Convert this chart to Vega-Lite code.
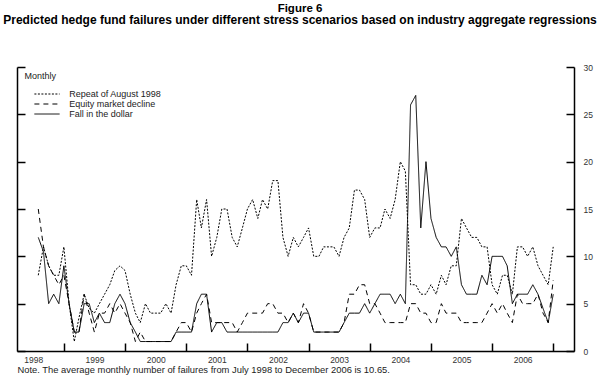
{
  "$schema": "https://vega.github.io/schema/vega-lite/v6.json",
  "width": 557,
  "height": 284,
  "autosize": {"type": "none"},
  "padding": {"left": 17, "top": 67, "right": 26, "bottom": 30},
  "background": "white",
  "config": {"view": {"stroke": null}, "font": "Liberation Sans"},
  "title": {
    "text": "Figure 6",
    "subtitle": "Predicted hedge fund failures under different stress scenarios based on industry aggregate regressions",
    "anchor": "middle",
    "fontSize": 11.5,
    "fontWeight": "bold",
    "color": "black",
    "subtitleFontSize": 12,
    "subtitleFontWeight": "bold",
    "subtitleColor": "black",
    "subtitlePadding": 0,
    "offset": 37.5,
    "dx": 4.5
  },
  "data": {"values": [
    {"m":"1998-07","s":"Repeat of August 1998","v":8},{"m":"1998-08","s":"Repeat of August 1998","v":11},{"m":"1998-09","s":"Repeat of August 1998","v":9},{"m":"1998-10","s":"Repeat of August 1998","v":8},{"m":"1998-11","s":"Repeat of August 1998","v":8},{"m":"1998-12","s":"Repeat of August 1998","v":11},
    {"m":"1999-01","s":"Repeat of August 1998","v":5},{"m":"1999-02","s":"Repeat of August 1998","v":1},{"m":"1999-03","s":"Repeat of August 1998","v":3.5},{"m":"1999-04","s":"Repeat of August 1998","v":6},{"m":"1999-05","s":"Repeat of August 1998","v":4.5},{"m":"1999-06","s":"Repeat of August 1998","v":4},{"m":"1999-07","s":"Repeat of August 1998","v":5},{"m":"1999-08","s":"Repeat of August 1998","v":6},{"m":"1999-09","s":"Repeat of August 1998","v":7},{"m":"1999-10","s":"Repeat of August 1998","v":8.5},{"m":"1999-11","s":"Repeat of August 1998","v":9},{"m":"1999-12","s":"Repeat of August 1998","v":8.5},
    {"m":"2000-01","s":"Repeat of August 1998","v":6},{"m":"2000-02","s":"Repeat of August 1998","v":4},{"m":"2000-03","s":"Repeat of August 1998","v":3},{"m":"2000-04","s":"Repeat of August 1998","v":5},{"m":"2000-05","s":"Repeat of August 1998","v":4},{"m":"2000-06","s":"Repeat of August 1998","v":4},{"m":"2000-07","s":"Repeat of August 1998","v":4},{"m":"2000-08","s":"Repeat of August 1998","v":5},{"m":"2000-09","s":"Repeat of August 1998","v":4},{"m":"2000-10","s":"Repeat of August 1998","v":7},{"m":"2000-11","s":"Repeat of August 1998","v":9},{"m":"2000-12","s":"Repeat of August 1998","v":9},
    {"m":"2001-01","s":"Repeat of August 1998","v":8},{"m":"2001-02","s":"Repeat of August 1998","v":16},{"m":"2001-03","s":"Repeat of August 1998","v":13},{"m":"2001-04","s":"Repeat of August 1998","v":16},{"m":"2001-05","s":"Repeat of August 1998","v":10},{"m":"2001-06","s":"Repeat of August 1998","v":12},{"m":"2001-07","s":"Repeat of August 1998","v":15},{"m":"2001-08","s":"Repeat of August 1998","v":15},{"m":"2001-09","s":"Repeat of August 1998","v":12},{"m":"2001-10","s":"Repeat of August 1998","v":11},{"m":"2001-11","s":"Repeat of August 1998","v":13},{"m":"2001-12","s":"Repeat of August 1998","v":15},
    {"m":"2002-01","s":"Repeat of August 1998","v":16},{"m":"2002-02","s":"Repeat of August 1998","v":14},{"m":"2002-03","s":"Repeat of August 1998","v":16},{"m":"2002-04","s":"Repeat of August 1998","v":15},{"m":"2002-05","s":"Repeat of August 1998","v":18},{"m":"2002-06","s":"Repeat of August 1998","v":18},{"m":"2002-07","s":"Repeat of August 1998","v":12},{"m":"2002-08","s":"Repeat of August 1998","v":10},{"m":"2002-09","s":"Repeat of August 1998","v":12},{"m":"2002-10","s":"Repeat of August 1998","v":11},{"m":"2002-11","s":"Repeat of August 1998","v":12},{"m":"2002-12","s":"Repeat of August 1998","v":13},
    {"m":"2003-01","s":"Repeat of August 1998","v":10},{"m":"2003-02","s":"Repeat of August 1998","v":10},{"m":"2003-03","s":"Repeat of August 1998","v":11},{"m":"2003-04","s":"Repeat of August 1998","v":11},{"m":"2003-05","s":"Repeat of August 1998","v":11},{"m":"2003-06","s":"Repeat of August 1998","v":10},{"m":"2003-07","s":"Repeat of August 1998","v":12},{"m":"2003-08","s":"Repeat of August 1998","v":13},{"m":"2003-09","s":"Repeat of August 1998","v":17},{"m":"2003-10","s":"Repeat of August 1998","v":17},{"m":"2003-11","s":"Repeat of August 1998","v":16},{"m":"2003-12","s":"Repeat of August 1998","v":12},
    {"m":"2004-01","s":"Repeat of August 1998","v":13},{"m":"2004-02","s":"Repeat of August 1998","v":13},{"m":"2004-03","s":"Repeat of August 1998","v":15},{"m":"2004-04","s":"Repeat of August 1998","v":14},{"m":"2004-05","s":"Repeat of August 1998","v":16},{"m":"2004-06","s":"Repeat of August 1998","v":20},{"m":"2004-07","s":"Repeat of August 1998","v":19},{"m":"2004-08","s":"Repeat of August 1998","v":7},{"m":"2004-09","s":"Repeat of August 1998","v":7},{"m":"2004-10","s":"Repeat of August 1998","v":6},{"m":"2004-11","s":"Repeat of August 1998","v":6},{"m":"2004-12","s":"Repeat of August 1998","v":7},
    {"m":"2005-01","s":"Repeat of August 1998","v":6},{"m":"2005-02","s":"Repeat of August 1998","v":8},{"m":"2005-03","s":"Repeat of August 1998","v":7},{"m":"2005-04","s":"Repeat of August 1998","v":9},{"m":"2005-05","s":"Repeat of August 1998","v":9},{"m":"2005-06","s":"Repeat of August 1998","v":14},{"m":"2005-07","s":"Repeat of August 1998","v":13},{"m":"2005-08","s":"Repeat of August 1998","v":12},{"m":"2005-09","s":"Repeat of August 1998","v":12},{"m":"2005-10","s":"Repeat of August 1998","v":11},{"m":"2005-11","s":"Repeat of August 1998","v":11},{"m":"2005-12","s":"Repeat of August 1998","v":7},
    {"m":"2006-01","s":"Repeat of August 1998","v":6},{"m":"2006-02","s":"Repeat of August 1998","v":8},{"m":"2006-03","s":"Repeat of August 1998","v":8},{"m":"2006-04","s":"Repeat of August 1998","v":6},{"m":"2006-05","s":"Repeat of August 1998","v":11},{"m":"2006-06","s":"Repeat of August 1998","v":11},{"m":"2006-07","s":"Repeat of August 1998","v":10},{"m":"2006-08","s":"Repeat of August 1998","v":11},{"m":"2006-09","s":"Repeat of August 1998","v":9},{"m":"2006-10","s":"Repeat of August 1998","v":8},{"m":"2006-11","s":"Repeat of August 1998","v":7},{"m":"2006-12","s":"Repeat of August 1998","v":11},

    {"m":"1998-07","s":"Equity market decline","v":15},{"m":"1998-08","s":"Equity market decline","v":11},{"m":"1998-09","s":"Equity market decline","v":9},{"m":"1998-10","s":"Equity market decline","v":8},{"m":"1998-11","s":"Equity market decline","v":7},{"m":"1998-12","s":"Equity market decline","v":8},
    {"m":"1999-01","s":"Equity market decline","v":5},{"m":"1999-02","s":"Equity market decline","v":2},{"m":"1999-03","s":"Equity market decline","v":2},{"m":"1999-04","s":"Equity market decline","v":6},{"m":"1999-05","s":"Equity market decline","v":4},{"m":"1999-06","s":"Equity market decline","v":2},{"m":"1999-07","s":"Equity market decline","v":4},{"m":"1999-08","s":"Equity market decline","v":4},{"m":"1999-09","s":"Equity market decline","v":5},{"m":"1999-10","s":"Equity market decline","v":4},{"m":"1999-11","s":"Equity market decline","v":5},{"m":"1999-12","s":"Equity market decline","v":4},
    {"m":"2000-01","s":"Equity market decline","v":3},{"m":"2000-02","s":"Equity market decline","v":1},{"m":"2000-03","s":"Equity market decline","v":2},{"m":"2000-04","s":"Equity market decline","v":1},{"m":"2000-05","s":"Equity market decline","v":1},{"m":"2000-06","s":"Equity market decline","v":1},{"m":"2000-07","s":"Equity market decline","v":1},{"m":"2000-08","s":"Equity market decline","v":1},{"m":"2000-09","s":"Equity market decline","v":1},{"m":"2000-10","s":"Equity market decline","v":2},{"m":"2000-11","s":"Equity market decline","v":3},{"m":"2000-12","s":"Equity market decline","v":3},
    {"m":"2001-01","s":"Equity market decline","v":2},{"m":"2001-02","s":"Equity market decline","v":4},{"m":"2001-03","s":"Equity market decline","v":5},{"m":"2001-04","s":"Equity market decline","v":6},{"m":"2001-05","s":"Equity market decline","v":3},{"m":"2001-06","s":"Equity market decline","v":3},{"m":"2001-07","s":"Equity market decline","v":3},{"m":"2001-08","s":"Equity market decline","v":3},{"m":"2001-09","s":"Equity market decline","v":3},{"m":"2001-10","s":"Equity market decline","v":2},{"m":"2001-11","s":"Equity market decline","v":3},{"m":"2001-12","s":"Equity market decline","v":4},
    {"m":"2002-01","s":"Equity market decline","v":4},{"m":"2002-02","s":"Equity market decline","v":4},{"m":"2002-03","s":"Equity market decline","v":4},{"m":"2002-04","s":"Equity market decline","v":5},{"m":"2002-05","s":"Equity market decline","v":5},{"m":"2002-06","s":"Equity market decline","v":4},{"m":"2002-07","s":"Equity market decline","v":4},{"m":"2002-08","s":"Equity market decline","v":3},{"m":"2002-09","s":"Equity market decline","v":4},{"m":"2002-10","s":"Equity market decline","v":3},{"m":"2002-11","s":"Equity market decline","v":5},{"m":"2002-12","s":"Equity market decline","v":4},
    {"m":"2003-01","s":"Equity market decline","v":2},{"m":"2003-02","s":"Equity market decline","v":2},{"m":"2003-03","s":"Equity market decline","v":2},{"m":"2003-04","s":"Equity market decline","v":2},{"m":"2003-05","s":"Equity market decline","v":2},{"m":"2003-06","s":"Equity market decline","v":2},{"m":"2003-07","s":"Equity market decline","v":3},{"m":"2003-08","s":"Equity market decline","v":6},{"m":"2003-09","s":"Equity market decline","v":6},{"m":"2003-10","s":"Equity market decline","v":7},{"m":"2003-11","s":"Equity market decline","v":7},{"m":"2003-12","s":"Equity market decline","v":5},
    {"m":"2004-01","s":"Equity market decline","v":5},{"m":"2004-02","s":"Equity market decline","v":4},{"m":"2004-03","s":"Equity market decline","v":3},{"m":"2004-04","s":"Equity market decline","v":3},{"m":"2004-05","s":"Equity market decline","v":3},{"m":"2004-06","s":"Equity market decline","v":3},{"m":"2004-07","s":"Equity market decline","v":3},{"m":"2004-08","s":"Equity market decline","v":5},{"m":"2004-09","s":"Equity market decline","v":5},{"m":"2004-10","s":"Equity market decline","v":4},{"m":"2004-11","s":"Equity market decline","v":4},{"m":"2004-12","s":"Equity market decline","v":3},
    {"m":"2005-01","s":"Equity market decline","v":3},{"m":"2005-02","s":"Equity market decline","v":5},{"m":"2005-03","s":"Equity market decline","v":4},{"m":"2005-04","s":"Equity market decline","v":4},{"m":"2005-05","s":"Equity market decline","v":4},{"m":"2005-06","s":"Equity market decline","v":3},{"m":"2005-07","s":"Equity market decline","v":3},{"m":"2005-08","s":"Equity market decline","v":3},{"m":"2005-09","s":"Equity market decline","v":3},{"m":"2005-10","s":"Equity market decline","v":3},{"m":"2005-11","s":"Equity market decline","v":4},{"m":"2005-12","s":"Equity market decline","v":5},
    {"m":"2006-01","s":"Equity market decline","v":4},{"m":"2006-02","s":"Equity market decline","v":5},{"m":"2006-03","s":"Equity market decline","v":4},{"m":"2006-04","s":"Equity market decline","v":3},{"m":"2006-05","s":"Equity market decline","v":6},{"m":"2006-06","s":"Equity market decline","v":5},{"m":"2006-07","s":"Equity market decline","v":5},{"m":"2006-08","s":"Equity market decline","v":5},{"m":"2006-09","s":"Equity market decline","v":6},{"m":"2006-10","s":"Equity market decline","v":4},{"m":"2006-11","s":"Equity market decline","v":3},{"m":"2006-12","s":"Equity market decline","v":7.5},

    {"m":"1998-07","s":"Fall in the dollar","v":12},{"m":"1998-08","s":"Fall in the dollar","v":10.5},{"m":"1998-09","s":"Fall in the dollar","v":5},{"m":"1998-10","s":"Fall in the dollar","v":6},{"m":"1998-11","s":"Fall in the dollar","v":5},{"m":"1998-12","s":"Fall in the dollar","v":9},
    {"m":"1999-01","s":"Fall in the dollar","v":5},{"m":"1999-02","s":"Fall in the dollar","v":2},{"m":"1999-03","s":"Fall in the dollar","v":2},{"m":"1999-04","s":"Fall in the dollar","v":5},{"m":"1999-05","s":"Fall in the dollar","v":5},{"m":"1999-06","s":"Fall in the dollar","v":3},{"m":"1999-07","s":"Fall in the dollar","v":4},{"m":"1999-08","s":"Fall in the dollar","v":3},{"m":"1999-09","s":"Fall in the dollar","v":3},{"m":"1999-10","s":"Fall in the dollar","v":5},{"m":"1999-11","s":"Fall in the dollar","v":6},{"m":"1999-12","s":"Fall in the dollar","v":5},
    {"m":"2000-01","s":"Fall in the dollar","v":3},{"m":"2000-02","s":"Fall in the dollar","v":2},{"m":"2000-03","s":"Fall in the dollar","v":1},{"m":"2000-04","s":"Fall in the dollar","v":1},{"m":"2000-05","s":"Fall in the dollar","v":1},{"m":"2000-06","s":"Fall in the dollar","v":1},{"m":"2000-07","s":"Fall in the dollar","v":1},{"m":"2000-08","s":"Fall in the dollar","v":1},{"m":"2000-09","s":"Fall in the dollar","v":1},{"m":"2000-10","s":"Fall in the dollar","v":2},{"m":"2000-11","s":"Fall in the dollar","v":2},{"m":"2000-12","s":"Fall in the dollar","v":2},
    {"m":"2001-01","s":"Fall in the dollar","v":2},{"m":"2001-02","s":"Fall in the dollar","v":5},{"m":"2001-03","s":"Fall in the dollar","v":6},{"m":"2001-04","s":"Fall in the dollar","v":6},{"m":"2001-05","s":"Fall in the dollar","v":2},{"m":"2001-06","s":"Fall in the dollar","v":3},{"m":"2001-07","s":"Fall in the dollar","v":3},{"m":"2001-08","s":"Fall in the dollar","v":2},{"m":"2001-09","s":"Fall in the dollar","v":2},{"m":"2001-10","s":"Fall in the dollar","v":2},{"m":"2001-11","s":"Fall in the dollar","v":2},{"m":"2001-12","s":"Fall in the dollar","v":2},
    {"m":"2002-01","s":"Fall in the dollar","v":2},{"m":"2002-02","s":"Fall in the dollar","v":2},{"m":"2002-03","s":"Fall in the dollar","v":2},{"m":"2002-04","s":"Fall in the dollar","v":2},{"m":"2002-05","s":"Fall in the dollar","v":2},{"m":"2002-06","s":"Fall in the dollar","v":2},{"m":"2002-07","s":"Fall in the dollar","v":3},{"m":"2002-08","s":"Fall in the dollar","v":3},{"m":"2002-09","s":"Fall in the dollar","v":4},{"m":"2002-10","s":"Fall in the dollar","v":3},{"m":"2002-11","s":"Fall in the dollar","v":4},{"m":"2002-12","s":"Fall in the dollar","v":4},
    {"m":"2003-01","s":"Fall in the dollar","v":2},{"m":"2003-02","s":"Fall in the dollar","v":2},{"m":"2003-03","s":"Fall in the dollar","v":2},{"m":"2003-04","s":"Fall in the dollar","v":2},{"m":"2003-05","s":"Fall in the dollar","v":2},{"m":"2003-06","s":"Fall in the dollar","v":2},{"m":"2003-07","s":"Fall in the dollar","v":3},{"m":"2003-08","s":"Fall in the dollar","v":4},{"m":"2003-09","s":"Fall in the dollar","v":4},{"m":"2003-10","s":"Fall in the dollar","v":4},{"m":"2003-11","s":"Fall in the dollar","v":5},{"m":"2003-12","s":"Fall in the dollar","v":4},
    {"m":"2004-01","s":"Fall in the dollar","v":5},{"m":"2004-02","s":"Fall in the dollar","v":6},{"m":"2004-03","s":"Fall in the dollar","v":6},{"m":"2004-04","s":"Fall in the dollar","v":6},{"m":"2004-05","s":"Fall in the dollar","v":5},{"m":"2004-06","s":"Fall in the dollar","v":6},{"m":"2004-07","s":"Fall in the dollar","v":5},{"m":"2004-08","s":"Fall in the dollar","v":26},{"m":"2004-09","s":"Fall in the dollar","v":27},{"m":"2004-10","s":"Fall in the dollar","v":13},{"m":"2004-11","s":"Fall in the dollar","v":20},{"m":"2004-12","s":"Fall in the dollar","v":14},
    {"m":"2005-01","s":"Fall in the dollar","v":12},{"m":"2005-02","s":"Fall in the dollar","v":11},{"m":"2005-03","s":"Fall in the dollar","v":11},{"m":"2005-04","s":"Fall in the dollar","v":10},{"m":"2005-05","s":"Fall in the dollar","v":11},{"m":"2005-06","s":"Fall in the dollar","v":7},{"m":"2005-07","s":"Fall in the dollar","v":6},{"m":"2005-08","s":"Fall in the dollar","v":6},{"m":"2005-09","s":"Fall in the dollar","v":6},{"m":"2005-10","s":"Fall in the dollar","v":8},{"m":"2005-11","s":"Fall in the dollar","v":7},{"m":"2005-12","s":"Fall in the dollar","v":10},
    {"m":"2006-01","s":"Fall in the dollar","v":10},{"m":"2006-02","s":"Fall in the dollar","v":10},{"m":"2006-03","s":"Fall in the dollar","v":9},{"m":"2006-04","s":"Fall in the dollar","v":5},{"m":"2006-05","s":"Fall in the dollar","v":6},{"m":"2006-06","s":"Fall in the dollar","v":6},{"m":"2006-07","s":"Fall in the dollar","v":6},{"m":"2006-08","s":"Fall in the dollar","v":7},{"m":"2006-09","s":"Fall in the dollar","v":6},{"m":"2006-10","s":"Fall in the dollar","v":4.5},{"m":"2006-11","s":"Fall in the dollar","v":3},{"m":"2006-12","s":"Fall in the dollar","v":6}
  ]},
  "encoding": {
    "x": {
      "field": "m",
      "type": "temporal",
      "scale": {"domain": ["1998-02-24", "2007-04-04"]},
      "axis": {
        "orient": "bottom",
        "values": [
          {"year": 1998, "month": 12, "date": 1},
          {"year": 1999, "month": 12, "date": 1},
          {"year": 2000, "month": 12, "date": 1},
          {"year": 2001, "month": 12, "date": 1},
          {"year": 2002, "month": 12, "date": 1},
          {"year": 2003, "month": 12, "date": 1},
          {"year": 2004, "month": 12, "date": 1},
          {"year": 2005, "month": 12, "date": 1},
          {"year": 2006, "month": 12, "date": 1}
        ],
        "format": "%Y",
        "labelOffset": -30.6,
        "labelFlush": false,
        "labelOverlap": false,
        "tickSize": -8,
        "tickWidth": 1.5,
        "tickColor": "black",
        "domainColor": "black",
        "domainWidth": 1.5,
        "labelPadding": 12.5,
        "labelFontSize": 8.5,
        "labelColor": "#333",
        "grid": false,
        "title": "Note. The average monthly number of failures from July 1998 to December 2006 is 10.65.",
        "titleAlign": "left",
        "titleAnchor": "start",
        "titleX": 0,
        "titleY": 14,
        "titleBaseline": "top",
        "titleFontSize": 9.4,
        "titleFontWeight": "normal",
        "titleColor": "#222"
      }
    }
  },
  "layer": [
    {
      "mark": {"type": "line", "color": "black", "strokeWidth": 1},
      "encoding": {
        "y": {
          "field": "v",
          "type": "quantitative",
          "scale": {"domain": [0, 30], "nice": false},
          "axis": {
            "orient": "left",
            "values": [0, 5, 10, 15, 20, 25, 30],
            "labels": false,
            "tickSize": -8,
            "tickWidth": 1.5,
            "tickColor": "black",
            "domainColor": "black",
            "domainWidth": 1.5,
            "grid": false,
            "title": "Monthly",
            "titleAngle": 0,
            "titleAlign": "left",
            "titleBaseline": "middle",
            "titleX": 7,
            "titleY": 8,
            "titleFontSize": 9,
            "titleFontWeight": "normal",
            "titleColor": "#222"
          }
        },
        "strokeDash": {
          "field": "s",
          "type": "nominal",
          "scale": {
            "domain": ["Repeat of August 1998", "Equity market decline", "Fall in the dollar"],
            "range": [[2, 1.5], [5, 4], [1, 0]]
          },
          "legend": {
            "orient": "none",
            "legendX": 25,
            "legendY": 22,
            "title": null,
            "symbolType": "M-2.8,0H2.8",
            "symbolSize": 81,
            "symbolStrokeColor": "black",
            "symbolFillColor": "transparent",
            "symbolStrokeWidth": 1,
            "labelFontSize": 9,
            "labelColor": "#222",
            "labelOffset": 17.3,
            "rowPadding": -1,
            "padding": 0
          }
        }
      }
    },
    {
      "mark": {"type": "point", "opacity": 0},
      "encoding": {
        "y": {
          "field": "v",
          "type": "quantitative",
          "scale": {"domain": [0, 30], "nice": false},
          "axis": {
            "orient": "right",
            "values": [0, 5, 10, 15, 20, 25, 30],
            "tickSize": -8,
            "tickWidth": 1.5,
            "tickColor": "black",
            "domainColor": "black",
            "domainWidth": 1.5,
            "labelPadding": 17,
            "labelFontSize": 8.5,
            "labelColor": "#333",
            "grid": false,
            "title": null
          }
        }
      }
    }
  ],
  "resolve": {"scale": {"y": "independent"}}
}
